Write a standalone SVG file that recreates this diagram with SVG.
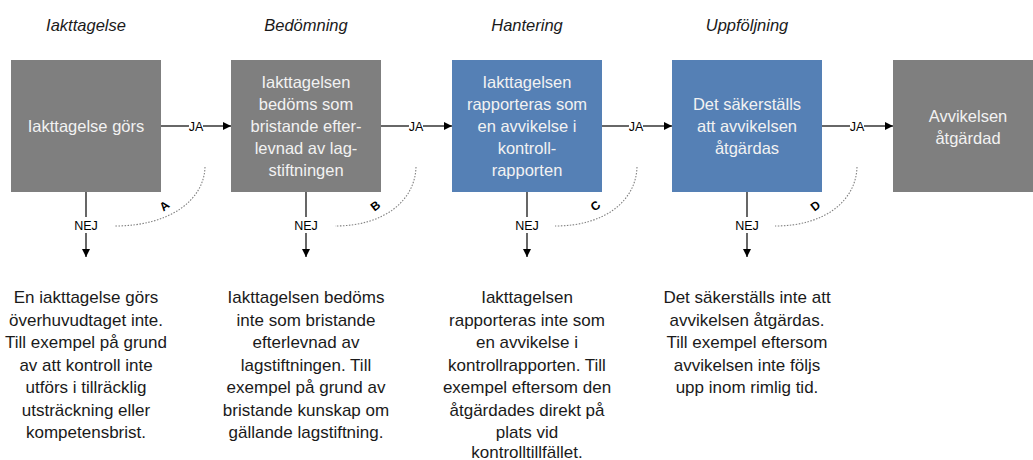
<svg xmlns="http://www.w3.org/2000/svg" width="1033" height="460" viewBox="0 0 1033 460">
<style>
.gray{fill:#7f7f7f}
.blue{fill:#5580b5}
.bt{font-family:"Liberation Sans",Arial,sans-serif;font-size:16.5px;fill:#f2f2f2;text-anchor:middle}
.hd{font-family:"Liberation Sans",Arial,sans-serif;font-size:16.5px;font-style:italic;fill:#1a1a1a;text-anchor:middle}
.ds{font-family:"Liberation Sans",Arial,sans-serif;font-size:17px;fill:#1a1a1a;text-anchor:middle}
.lb{font-family:"Liberation Sans",Arial,sans-serif;font-size:12.5px;fill:#000;text-anchor:middle}
.lt{font-family:"Liberation Sans",Arial,sans-serif;font-size:12px;font-weight:bold;fill:#000;text-anchor:middle}
.ln{stroke:#000;stroke-width:1.2;fill:none}
.dot{stroke:#808080;stroke-width:1.1;fill:none;stroke-dasharray:1.5 1.5}
</style>
<defs>
<marker id="ah" viewBox="0 0 10 10" refX="10" refY="5" markerWidth="8" markerHeight="8" markerUnits="userSpaceOnUse" orient="auto">
<path d="M0,0 L10,5 L0,10 z" fill="#000"/>
</marker>
</defs>
<rect width="1033" height="460" fill="#fff"/>

<g id="headers">
<text class="hd" x="86" y="31">Iakttagelse</text>
<text class="hd" x="306" y="31">Bedömning</text>
<text class="hd" x="527" y="31">Hantering</text>
<text class="hd" x="747" y="31">Uppföljning</text>
</g>

<g id="node1">
<rect class="gray" x="11" y="60" width="150" height="132"/>
<text class="bt" x="86" y="132">Iakttagelse görs</text>
</g>
<g id="node2">
<rect class="gray" x="231" y="60" width="150" height="132"/>
<text class="bt" x="306" y="88">Iakttagelsen</text>
<text class="bt" x="306" y="110">bedöms som</text>
<text class="bt" x="306" y="132">bristande efter-</text>
<text class="bt" x="306" y="154">levnad av lag-</text>
<text class="bt" x="306" y="176">stiftningen</text>
</g>
<g id="node3">
<rect class="blue" x="452" y="60" width="150" height="132"/>
<text class="bt" x="527" y="88">Iakttagelsen</text>
<text class="bt" x="527" y="110">rapporteras som</text>
<text class="bt" x="527" y="132">en avvikelse i</text>
<text class="bt" x="527" y="154">kontroll-</text>
<text class="bt" x="527" y="176">rapporten</text>
</g>
<g id="node4">
<rect class="blue" x="672" y="60" width="150" height="132"/>
<text class="bt" x="747" y="110">Det säkerställs</text>
<text class="bt" x="747" y="132">att avvikelsen</text>
<text class="bt" x="747" y="154">åtgärdas</text>
</g>
<g id="node5">
<rect class="gray" x="893" y="60" width="150" height="132"/>
<text class="bt" x="968" y="122">Avvikelsen</text>
<text class="bt" x="968" y="144">åtgärdad</text>
</g>

<g id="connectors">
<path class="ln" d="M161,126 H189"/><path class="ln" d="M203,126 H231" marker-end="url(#ah)"/>
<text class="lb" x="196" y="130.5">JA</text>
<path class="ln" d="M381,126 H409"/><path class="ln" d="M423,126 H452" marker-end="url(#ah)"/>
<text class="lb" x="416" y="130.5">JA</text>
<path class="ln" d="M602,126 H629"/><path class="ln" d="M643,126 H672" marker-end="url(#ah)"/>
<text class="lb" x="636" y="130.5">JA</text>
<path class="ln" d="M822,126 H850"/><path class="ln" d="M864,126 H893" marker-end="url(#ah)"/>
<text class="lb" x="857" y="130.5">JA</text>

<path class="ln" d="M86,192 V217"/><path class="ln" d="M86,233 V257" marker-end="url(#ah)"/>
<text class="lb" x="86" y="229.5">NEJ</text>
<path class="ln" d="M306,192 V217"/><path class="ln" d="M306,233 V257" marker-end="url(#ah)"/>
<text class="lb" x="306" y="229.5">NEJ</text>
<path class="ln" d="M527,192 V217"/><path class="ln" d="M527,233 V257" marker-end="url(#ah)"/>
<text class="lb" x="527" y="229.5">NEJ</text>
<path class="ln" d="M747,192 V217"/><path class="ln" d="M747,233 V257" marker-end="url(#ah)"/>
<text class="lb" x="747" y="229.5">NEJ</text>

<path class="dot" d="M205,167 C204,200 170,226 115,226"/>
<text class="lt" transform="translate(167,209) rotate(-38)">A</text>
<path class="dot" d="M416,167 C415,200 385,226 335,226"/>
<text class="lt" transform="translate(378,209) rotate(-38)">B</text>
<path class="dot" d="M637,167 C636,200 606,226 555,226"/>
<text class="lt" transform="translate(598,209) rotate(-38)">C</text>
<path class="dot" d="M857,167 C856,200 826,226 775,226"/>
<text class="lt" transform="translate(818,209) rotate(-38)">D</text>
</g>

<g id="desc1">
<text class="ds" x="86" y="303">En iakttagelse görs</text>
<text class="ds" x="86" y="325.5">överhuvudtaget inte.</text>
<text class="ds" x="86" y="348">Till exempel på grund</text>
<text class="ds" x="86" y="370.5">av att kontroll inte</text>
<text class="ds" x="86" y="393">utförs i tillräcklig</text>
<text class="ds" x="86" y="415.5">utsträckning eller</text>
<text class="ds" x="86" y="438">kompetensbrist.</text>
</g>
<g id="desc2">
<text class="ds" x="306" y="303">Iakttagelsen bedöms</text>
<text class="ds" x="306" y="325.5">inte som bristande</text>
<text class="ds" x="306" y="348">efterlevnad av</text>
<text class="ds" x="306" y="370.5">lagstiftningen. Till</text>
<text class="ds" x="306" y="393">exempel på grund av</text>
<text class="ds" x="306" y="415.5">bristande kunskap om</text>
<text class="ds" x="306" y="438">gällande lagstiftning.</text>
</g>
<g id="desc3">
<text class="ds" x="527" y="303">Iakttagelsen</text>
<text class="ds" x="527" y="325.5">rapporteras inte som</text>
<text class="ds" x="527" y="348">en avvikelse i</text>
<text class="ds" x="527" y="370.5">kontrollrapporten. Till</text>
<text class="ds" x="527" y="393">exempel eftersom den</text>
<text class="ds" x="527" y="415.5">åtgärdades direkt på</text>
<text class="ds" x="527" y="438">plats vid</text>
<text class="ds" x="527" y="460.5" dy="-3">kontrolltillfället.</text>
</g>
<g id="desc4">
<text class="ds" x="747" y="303">Det säkerställs inte att</text>
<text class="ds" x="747" y="325.5">avvikelsen åtgärdas.</text>
<text class="ds" x="747" y="348">Till exempel eftersom</text>
<text class="ds" x="747" y="370.5">avvikelsen inte följs</text>
<text class="ds" x="747" y="393">upp inom rimlig tid.</text>
</g>
</svg>
